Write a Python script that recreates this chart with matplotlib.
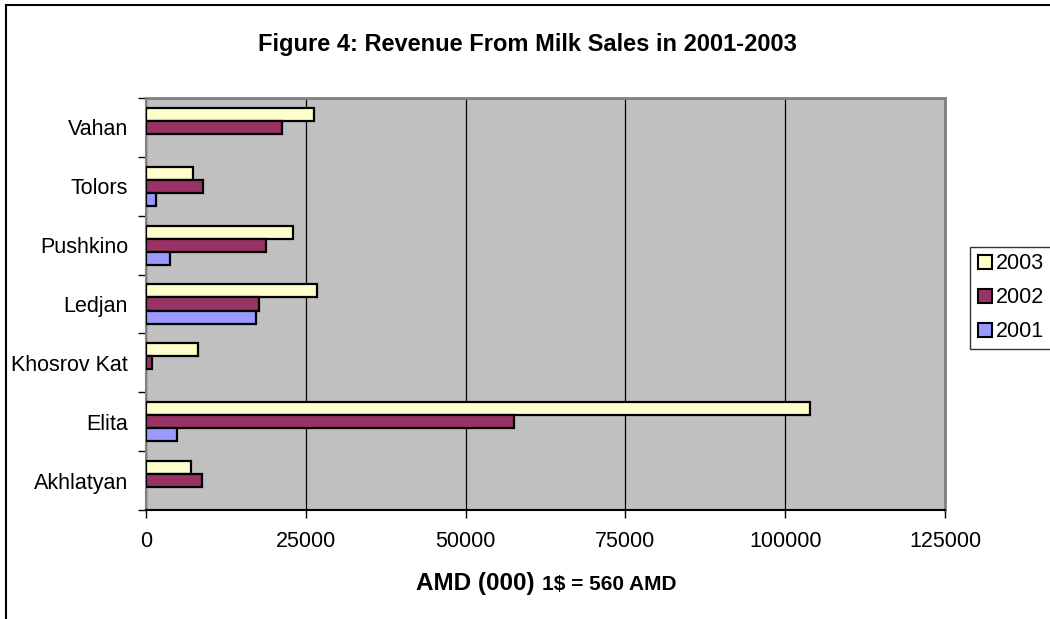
import matplotlib
matplotlib.use("Agg")
import matplotlib.pyplot as plt
import numpy as np
from matplotlib.lines import Line2D

plt.rcParams['font.family'] = ['Liberation Sans', 'DejaVu Sans']

categories = ["Akhlatyan", "Elita", "Khosrov Kat", "Ledjan", "Pushkino", "Tolors", "Vahan"]
rev_2003 = [7000, 103850, 8200, 26800, 23000, 7400, 26250]
rev_2002 = [8700, 57500, 950, 17700, 18850, 8950, 21350]
rev_2001 = [0, 4900, 0, 17150, 3800, 1550, 0]
series_labels = ["2003", "2002", "2001"]
xticks = [0, 25000, 50000, 75000, 100000, 125000]

colors = {"2003": "#FFFFCC", "2002": "#993366", "2001": "#9999FF"}

fig = plt.figure(figsize=(10.5, 6.19), dpi=100)
ax = fig.add_axes([146/1050, 1-510/619, (945-146)/1050, (510-98)/619])
ax.set_facecolor("#C0C0C0")

y = np.arange(len(categories))
h = 0.222
offsets = {"2003": h, "2002": 0.0, "2001": -h}
data = {"2003": rev_2003, "2002": rev_2002, "2001": rev_2001}
for s in series_labels:
    vals = np.array(data[s], dtype=float)
    m = vals > 0
    ax.barh(y[m] + offsets[s], vals[m], height=h, color=colors[s],
            edgecolor="black", linewidth=1.6, zorder=3)

ax.set_xlim(0, 125000)
ax.set_ylim(-0.5, len(categories) - 0.5)
ax.set_xticks(xticks)
ax.set_xticklabels([str(t) for t in xticks], fontsize=15.5)
ax.xaxis.grid(True, color="black", linewidth=0.9, zorder=1)
ax.set_axisbelow(True)
ax.tick_params(axis="x", direction="out", length=6, width=1, pad=9, color="black")

ax.set_yticks(np.arange(-0.5, len(categories), 1.0))
ax.set_yticklabels([])
ax.tick_params(axis="y", which="major", direction="out", length=6, width=1)
ax.set_yticks(y, minor=True)
ax.set_yticklabels(categories, minor=True, fontsize=15.5)
ax.tick_params(axis="y", which="minor", length=0, pad=13)

for sp in ["top", "right"]:
    ax.spines[sp].set_color("#808080")
    ax.spines[sp].set_linewidth(2)
ax.spines["left"].set_color("#808080")
ax.spines["left"].set_linewidth(1.5)
ax.spines["bottom"].set_color("black")
ax.spines["bottom"].set_linewidth(1.5)

fig.text(527.5/1050, 1-44/619, "Figure 4: Revenue From Milk Sales in 2001-2003",
         ha="center", va="center", fontsize=17, fontweight="bold")
fig.text(535/1050, 1-590/619, "AMD (000)", ha="right", va="baseline",
         fontsize=17.5, fontweight="bold")
fig.text(542/1050, 1-590/619, "1$ = 560 AMD", ha="left", va="baseline",
         fontsize=15, fontweight="bold")

handles = [Line2D([0], [0], marker="s", linestyle="none", markersize=10,
                  markerfacecolor=colors[s], markeredgecolor="black",
                  markeredgewidth=1.5) for s in series_labels]
leg = fig.legend(handles, series_labels, loc="upper left",
                 bbox_to_anchor=(970/1050, 1-247/619), fontsize=15.5,
                 frameon=True, fancybox=False, edgecolor="black",
                 handlelength=0.8, handletextpad=0.1, borderpad=0.3,
                 labelspacing=0.6, borderaxespad=0)
leg.get_frame().set_linewidth(1)

# chart area border (left and top visible)
fig.add_artist(Line2D([6/1050, 6/1050], [0, 1-5/619], transform=fig.transFigure,
                      color="black", linewidth=1.5))
fig.add_artist(Line2D([6/1050, 1], [1-5/619, 1-5/619], transform=fig.transFigure,
                      color="black", linewidth=1.5))

fig.savefig("out.png", dpi=100)
